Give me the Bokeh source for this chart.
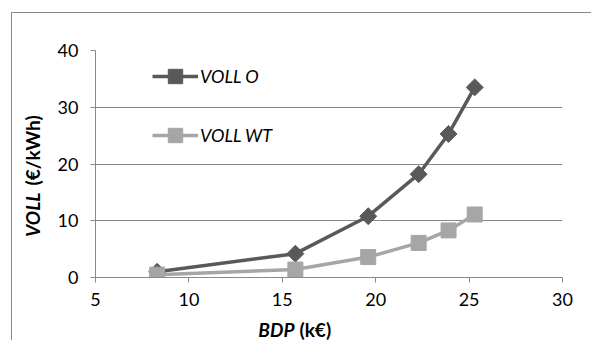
from bokeh.plotting import figure
from bokeh.models import Label, Legend, LegendItem, FixedTicker, Range1d
from bokeh.embed import file_html
from bokeh.resources import INLINE
import math

# data
bdp = [8.3, 15.7, 19.6, 22.3, 23.9, 25.3]
voll_o = [1.0, 4.2, 10.8, 18.2, 25.3, 33.5]
voll_wt = [0.5, 1.4, 3.6, 6.1, 8.3, 11.1]
x_ticks = [5, 10, 15, 20, 25, 30]
y_ticks = [0, 10, 20, 30, 40]
series_names = ["VOLL O", "VOLL WT"]

FONT = "Lato"
DARK = "#595959"
LIGHT = "#a6a6a6"
GRID = "#898989"

p = figure(width=580, height=328, output_backend="svg", toolbar_location=None,
           x_range=Range1d(5, 30), y_range=Range1d(0, 40),
           min_border_left=83, min_border_top=37, min_border_right=30, min_border_bottom=64)
p.margin = (12, 0, 0, 11)
p.styles = {"border-left": "1px solid #8a8a8a", "border-top": "1px solid #8a8a8a"}
p.outline_line_color = None
p.background_fill_color = "white"
p.border_fill_color = "white"

p.xgrid.visible = False
p.ygrid.grid_line_color = GRID
p.ygrid.grid_line_width = 1
p.ygrid.ticker = FixedTicker(ticks=y_ticks)

for ax in (p.xaxis[0], p.yaxis[0]):
    ax.axis_line_color = GRID
    ax.major_tick_line_color = GRID
    ax.major_tick_in = 0
    ax.major_tick_out = 5
    ax.minor_tick_line_color = None
    ax.major_label_text_font = FONT
    ax.major_label_text_font_size = "18px"
    ax.major_label_text_color = "#000000"
p.xaxis[0].ticker = FixedTicker(ticks=x_ticks)
p.yaxis[0].ticker = FixedTicker(ticks=y_ticks)
p.xaxis[0].major_label_standoff = 10
p.yaxis[0].major_label_standoff = 12

# series
lo = p.line(bdp, voll_o, line_color=DARK, line_width=3.5)
so = p.scatter(bdp, voll_o, marker="square", angle=math.pi / 4, size=12,
               fill_color=DARK, line_color=DARK)
lw = p.line(bdp, voll_wt, line_color=LIGHT, line_width=3.5)
sw = p.scatter(bdp, voll_wt, marker="square", size=15, fill_color=LIGHT, line_color=LIGHT)

legend = Legend(items=[LegendItem(label=series_names[0], renderers=[lo, so]),
                       LegendItem(label=series_names[1], renderers=[lw, sw])],
                location=(57, 124), orientation="vertical")
legend.glyph_width = 46
legend.glyph_height = 36
legend.spacing = 23
legend.padding = 0
legend.margin = 0
legend.label_standoff = 2
legend.label_height = 36
legend.label_text_font = FONT
legend.label_text_font_style = "italic"
legend.label_text_font_size = "18px"
legend.label_text_color = "#000000"
legend.background_fill_alpha = 0
legend.border_line_color = None
p.add_layout(legend)

# axis titles (mixed styles), in side panels (not clipped), canvas units
common = dict(x_units="canvas", y_units="canvas", text_font=FONT, text_font_size="19px",
              text_color="#000000", text_baseline="middle")
p.add_layout(Label(x=281, y=315, text="BDP", text_font_style="bold italic", text_align="right", **common), "below")
p.add_layout(Label(x=286, y=315, text="(k€)", text_font_style="bold", text_align="left", **common), "above")
p.add_layout(Label(x=19, y=178, text="VOLL", angle=math.pi / 2, text_font_style="bold italic",
                   text_align="right", **common), "left")
p.add_layout(Label(x=19, y=171, text="(€/kWh)", angle=math.pi / 2, text_font_style="bold",
                   text_align="left", **common), "right")

open("out.html", "w").write(file_html(p, INLINE))
